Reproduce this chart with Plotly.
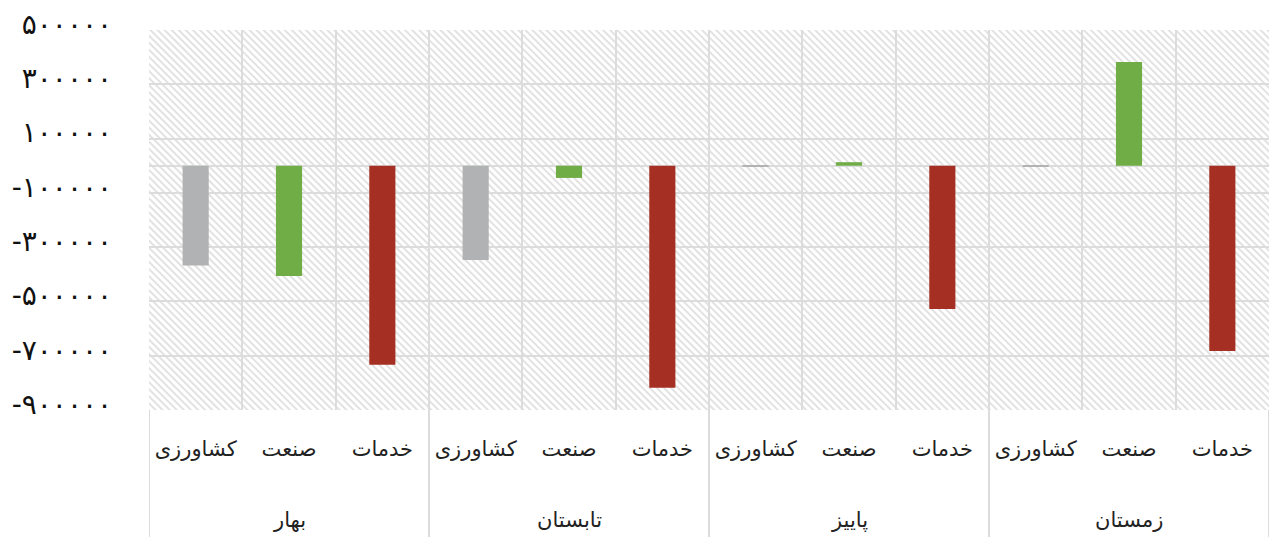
import base64
import plotly.graph_objects as go

seasons = ['بهار', 'تابستان', 'پاییز', 'زمستان']
sectors = ['کشاورزی', 'صنعت', 'خدمات']

# values per season, in sector order
agri = [-368000, -347000, -3000, -3000]
industry = [-406000, -45000, 13000, 382000]
services = [-733000, -818000, -528000, -683000]

tick_vals = [500000, 300000, 100000, -100000, -300000, -500000, -700000, -900000]
tick_text = ['۵۰۰۰۰۰', '۳۰۰۰۰۰', '۱۰۰۰۰۰', '-۱۰۰۰۰۰', '-۳۰۰۰۰۰',
             '-۵۰۰۰۰۰', '-۷۰۰۰۰۰', '-۹۰۰۰۰۰']

sector_colors = {'کشاورزی': '#b1b2b4', 'صنعت': '#70ad47', 'خدمات': '#a52f22'}

n_sec = len(sectors)
xs, ys, cols, labels = [], [], [], []
for i, s in enumerate(seasons):
    for j, (name, vals) in enumerate(zip(sectors, [agri, industry, services])):
        xs.append(i * n_sec + j)
        ys.append(vals[i])
        cols.append(sector_colors[name])
        labels.append(name)

n = len(xs)
bounds = [k - 0.5 for k in range(n + 1)]

# hatched plot background
W, H = 1120, 380
svg = (f'<svg xmlns="http://www.w3.org/2000/svg" width="{W}" height="{H}">'
       '<defs><pattern id="h" width="5" height="5" patternUnits="userSpaceOnUse" '
       'patternTransform="rotate(-45)"><line x1="1" y1="0" x2="1" y2="5" '
       'stroke="#d8d8d8" stroke-width="1.5"/></pattern></defs>'
       f'<rect width="{W}" height="{H}" fill="white"/>'
       f'<rect width="{W}" height="{H}" fill="url(#h)"/></svg>')
bg = 'data:image/svg+xml;base64,' + base64.b64encode(svg.encode()).decode()

fig = go.Figure()
fig.add_trace(go.Bar(
    x=xs, y=ys,
    marker=dict(color=cols, line=dict(width=0)),
    width=0.28, showlegend=False))

fig.add_layout_image(dict(
    source=bg, xref='paper', yref='paper', x=0, y=1,
    sizex=1, sizey=1, sizing='stretch', layer='below'))

font = 'DejaVu Sans, sans-serif'
lab_size = 21

# season labels and group dividers under the axis
for i, s in enumerate(seasons):
    fig.add_annotation(x=i * n_sec + (n_sec - 1) / 2, y=-0.29, xref='x', yref='paper',
                       text=s, showarrow=False, yanchor='middle',
                       font=dict(family=font, size=lab_size, color='#222222'))
for i in range(len(seasons) + 1):
    fig.add_shape(type='line', xref='x', yref='paper',
                  x0=i * n_sec - 0.5, x1=i * n_sec - 0.5, y0=0, y1=-0.34,
                  line=dict(color='#dcdcdc', width=2))

fig.update_layout(
    width=1269, height=537,
    margin=dict(l=149, r=0, t=30, b=127),
    paper_bgcolor='white', plot_bgcolor='rgba(0,0,0,0)',
    font=dict(family=font, size=lab_size, color='#222222'),
    xaxis=dict(
        range=[-0.5, n - 0.5], tickvals=xs, ticktext=labels,
        showgrid=False, zeroline=False, ticks='', automargin=False,
        ticklabelstandoff=24,
        minor=dict(tickvals=bounds, showgrid=True, gridcolor='#dcdcdc',
                   gridwidth=2, ticks=''),
        tickfont=dict(size=lab_size, color='#222222'),
    ),
    yaxis=dict(
        range=[-900000, 500000], tickvals=tick_vals, ticktext=tick_text,
        showgrid=True, gridcolor='#dcdcdc', gridwidth=2,
        zeroline=True, zerolinecolor='#dcdcdc', zerolinewidth=2,
        ticks='', ticklabelstandoff=36, ticklabelshift=-6, automargin=False,
        tickfont=dict(size=28, color='#111111'),
    ),
)

fig.write_html('out.html', config={'displayModeBar': False},
               post_script="document.body.style.margin='0';")
